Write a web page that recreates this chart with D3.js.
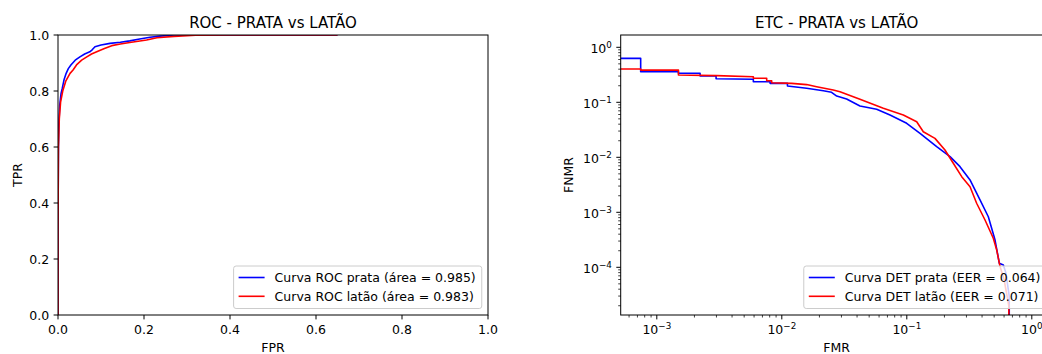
<!DOCTYPE html>
<html>
<head>
<meta charset="utf-8">
<script src="https://cdn.jsdelivr.net/npm/d3@7"></script>
<style>
  html, body { margin: 0; padding: 0; background: #fff; }
  svg { display: block; font-family: "DejaVu Sans", sans-serif; }
</style>
</head>
<body>
<svg id="chart" width="1042" height="354"></svg>
<script>
// ---------- DATA ----------
const rocTitle = "ROC - PRATA vs LATÃO";
const detTitle = "ETC - PRATA vs LATÃO";
const rocLegend = ["Curva ROC prata (área = 0.985)", "Curva ROC latão (área = 0.983)"];
const detLegend = ["Curva DET prata (EER = 0.064)", "Curva DET latão (EER = 0.071)"];
const seriesColors = ["#0000ff", "#ff0000"];

const rocTicks = [0.0, 0.2, 0.4, 0.6, 0.8, 1.0];

// ROC prata: [FPR, TPR]
const rocPrata = [
  [0, 0], [0, 0.3], [0.001, 0.6], [0.002, 0.68], [0.004, 0.75], [0.007, 0.79], [0.01, 0.81],
  [0.014, 0.84], [0.019, 0.863], [0.024, 0.88], [0.03, 0.893], [0.04, 0.91], [0.051, 0.922],
  [0.062, 0.932], [0.074, 0.94], [0.08, 0.948], [0.086, 0.958], [0.1, 0.964], [0.121, 0.970],
  [0.145, 0.974], [0.167, 0.979], [0.19, 0.986], [0.214, 0.992], [0.237, 0.996], [0.27, 1.0],
  [0.65, 1.0]
];
// ROC latão: [FPR, TPR]
const rocLatao = [
  [0, 0], [0, 0.3], [0.001, 0.6], [0.003, 0.7], [0.006, 0.76], [0.011, 0.80], [0.018, 0.835],
  [0.028, 0.863], [0.035, 0.875], [0.043, 0.893], [0.055, 0.91], [0.067, 0.922], [0.078, 0.932],
  [0.09, 0.94], [0.108, 0.952], [0.125, 0.962], [0.145, 0.968], [0.167, 0.973], [0.206, 0.982],
  [0.23, 0.99], [0.27, 0.995], [0.32, 0.999], [0.4, 1.0], [0.65, 1.0]
];

const detXTicks = [1e-3, 1e-2, 1e-1, 1e0];
const detYTicks = [1e-4, 1e-3, 1e-2, 1e-1, 1e0];

// DET prata: [FMR, FNMR]
const detPrata = [
  [1e-4, 0.63], [7.43e-4, 0.63], [7.43e-4, 0.36], [1.49e-3, 0.36], [1.49e-3, 0.337],
  [2.22e-3, 0.337], [2.22e-3, 0.30], [2.98e-3, 0.30], [2.98e-3, 0.268], [5.92e-3, 0.262],
  [5.92e-3, 0.237], [8.06e-3, 0.237], [8.06e-3, 0.221], [1.11e-2, 0.221], [1.11e-2, 0.198],
  [1.58e-2, 0.18], [2.15e-2, 0.162], [2.5e-2, 0.152], [2.75e-2, 0.13], [3.3e-2, 0.115],
  [4.22e-2, 0.0857], [5.74e-2, 0.0746], [7.34e-2, 0.0588], [9.98e-2, 0.0415], [0.1276, 0.0273],
  [0.1734, 0.0156], [0.2218, 0.01026], [0.2665, 0.00675], [0.3205, 0.00387], [0.3852, 0.00168],
  [0.449, 8.3e-4], [0.508, 3.13e-4], [0.55, 1.18e-4], [0.592, 1.1e-4], [0.62, 8e-5],
  [0.66, 3e-5], [0.66, 1e-7]
];
// DET latão: [FMR, FNMR]
const detLatao = [
  [1e-4, 0.403], [7.43e-4, 0.403], [7.43e-4, 0.385], [1.49e-3, 0.385], [1.49e-3, 0.313],
  [3e-3, 0.305], [5.92e-3, 0.292], [5.92e-3, 0.273], [7.57e-3, 0.273], [7.57e-3, 0.247],
  [8.3e-3, 0.247], [8.3e-3, 0.227], [1.2e-2, 0.221], [1.58e-2, 0.21], [1.9e-2, 0.192],
  [2.58e-2, 0.1675], [2.92e-2, 0.156], [4.22e-2, 0.1134], [6.49e-2, 0.0778], [9.38e-2, 0.0588],
  [0.12, 0.0444], [0.1355, 0.0292], [0.168, 0.0221], [0.202, 0.0136], [0.2355, 0.00778],
  [0.275, 0.00444], [0.3205, 0.00292], [0.362, 0.00146], [0.4225, 7.24e-4], [0.492, 3.37e-4],
  [0.524, 2.06e-4], [0.557, 1.03e-4], [0.6, 6e-5], [0.655, 2e-5], [0.655, 1e-7]
];

// ---------- LAYOUT ----------
const svg = d3.select("#chart");
const FS = 12.5, TFS = 15, LW = 1.6;
const L = { x0: 58, x1: 488, y0: 35, y1: 315 };
const R = { x0: 620.7, x1: 1052.7, y0: 35, y1: 315 };

const defs = svg.append("defs");
function clip(id, b) {
  defs.append("clipPath").attr("id", id).append("rect")
    .attr("x", b.x0).attr("y", b.y0).attr("width", b.x1 - b.x0).attr("height", b.y1 - b.y0);
}
clip("clipL", L); clip("clipR", R);

// ---------- ROC ----------
const xL = d3.scaleLinear().domain([0, 1]).range([L.x0, L.x1]);
const yL = d3.scaleLinear().domain([0, 1]).range([L.y1, L.y0]);

const gL = svg.append("g");
const lineL = d3.line().x(d => xL(d[0])).y(d => yL(d[1]));
[rocPrata, rocLatao].forEach((s, i) => {
  gL.append("path").datum(s).attr("d", lineL).attr("fill", "none")
    .attr("stroke", seriesColors[i]).attr("stroke-width", LW)
    .attr("stroke-linejoin", "round").attr("clip-path", "url(#clipL)");
});

function spines(b) {
  svg.append("rect").attr("x", b.x0).attr("y", b.y0).attr("width", b.x1 - b.x0)
    .attr("height", b.y1 - b.y0).attr("fill", "none").attr("stroke", "#000").attr("stroke-width", 1);
}
spines(L);

const axL = svg.append("g").attr("font-size", FS).attr("fill", "#000");
rocTicks.forEach(t => {
  axL.append("line").attr("x1", xL(t)).attr("x2", xL(t)).attr("y1", L.y1).attr("y2", L.y1 + 4.4)
    .attr("stroke", "#000").attr("stroke-width", 1);
  axL.append("text").attr("x", xL(t)).attr("y", L.y1 + 19.3).attr("text-anchor", "middle")
    .text(d3.format(".1f")(t));
  axL.append("line").attr("x1", L.x0 - 4.4).attr("x2", L.x0).attr("y1", yL(t)).attr("y2", yL(t))
    .attr("stroke", "#000").attr("stroke-width", 1);
  axL.append("text").attr("x", L.x0 - 8.8).attr("y", yL(t) + 4.6).attr("text-anchor", "end")
    .text(d3.format(".1f")(t));
});
svg.append("text").attr("x", (L.x0 + L.x1) / 2).attr("y", 351.5).attr("text-anchor", "middle")
  .attr("font-size", FS).text("FPR");
svg.append("text").attr("transform", `translate(21.5,${(L.y0 + L.y1) / 2}) rotate(-90)`)
  .attr("text-anchor", "middle").attr("font-size", FS).text("TPR");
svg.append("text").attr("x", (L.x0 + L.x1) / 2).attr("y", 27.5).attr("text-anchor", "middle")
  .attr("font-size", TFS).text(rocTitle);

// ---------- DET ----------
const xR = d3.scaleLog()
  .domain([Math.pow(10, -3 + (R.x0 - 656.8) / 125), Math.pow(10, (R.x1 - 1031.8) / 125)])
  .range([R.x0, R.x1]);
const yR = d3.scaleLog()
  .domain([Math.pow(10, -(R.y1 - 47.3) / 55), Math.pow(10, (47.3 - R.y0) / 55)])
  .range([R.y1, R.y0]);

const gR = svg.append("g");
const lineR = d3.line().x(d => xR(d[0])).y(d => yR(d[1]));
[detPrata, detLatao].forEach((s, i) => {
  gR.append("path").datum(s).attr("d", lineR).attr("fill", "none")
    .attr("stroke", seriesColors[i]).attr("stroke-width", LW)
    .attr("stroke-linejoin", "round").attr("clip-path", "url(#clipR)");
});
spines(R);

function minorTicks(dom) {
  const out = [];
  const lo = Math.floor(Math.log10(dom[0])), hi = Math.ceil(Math.log10(dom[1]));
  for (let k = lo; k <= hi; k++) for (let m = 2; m <= 9; m++) {
    const v = m * Math.pow(10, k);
    if (v >= dom[0] && v <= dom[1]) out.push(v);
  }
  return out;
}
function expLabel(sel, v) {
  const e = Math.round(Math.log10(v));
  sel.append("tspan").text("10");
  sel.append("tspan").attr("dy", -5).attr("font-size", FS * 0.7)
    .text(e < 0 ? "\u2212" + (-e) : String(e));
}
const axR = svg.append("g").attr("font-size", FS).attr("fill", "#000");
detXTicks.forEach(t => {
  if (t < xR.domain()[0] || t > xR.domain()[1]) return;
  axR.append("line").attr("x1", xR(t)).attr("x2", xR(t)).attr("y1", R.y1).attr("y2", R.y1 + 4.4)
    .attr("stroke", "#000").attr("stroke-width", 1);
  const tx = axR.append("text").attr("x", xR(t)).attr("y", R.y1 + 18.8).attr("text-anchor", "middle");
  expLabel(tx, t);
});
minorTicks(xR.domain()).forEach(t => {
  axR.append("line").attr("x1", xR(t)).attr("x2", xR(t)).attr("y1", R.y1).attr("y2", R.y1 + 2.5)
    .attr("stroke", "#000").attr("stroke-width", 0.75);
});
detYTicks.forEach(t => {
  axR.append("line").attr("x1", R.x0 - 4.4).attr("x2", R.x0).attr("y1", yR(t)).attr("y2", yR(t))
    .attr("stroke", "#000").attr("stroke-width", 1);
  const tx = axR.append("text").attr("x", R.x0 - 8.8).attr("y", yR(t) + 6).attr("text-anchor", "end");
  expLabel(tx, t);
});
minorTicks(yR.domain()).forEach(t => {
  axR.append("line").attr("x1", R.x0 - 2.5).attr("x2", R.x0).attr("y1", yR(t)).attr("y2", yR(t))
    .attr("stroke", "#000").attr("stroke-width", 0.75);
});
svg.append("text").attr("x", (R.x0 + R.x1) / 2).attr("y", 351.5).attr("text-anchor", "middle")
  .attr("font-size", FS).text("FMR");
svg.append("text").attr("transform", `translate(573.3,${(R.y0 + R.y1) / 2}) rotate(-90)`)
  .attr("text-anchor", "middle").attr("font-size", FS).text("FNMR");
svg.append("text").attr("x", (R.x0 + R.x1) / 2).attr("y", 27.5).attr("text-anchor", "middle")
  .attr("font-size", TFS).text(detTitle);

// ---------- LEGENDS ----------
function legend(b, labels) {
  const g = svg.append("g");
  const box = g.append("rect");
  const texts = labels.map(lab => g.append("text").attr("font-size", FS).text(lab));
  const tw = d3.max(texts, t => t.node().getComputedTextLength());
  const w = 5 + 26 + 10 + tw + 6;
  const right = b.x1 - 6.25, bottom = b.y1 - 6.5;
  const left = right - w, top = bottom - 42.5;
  box.attr("x", left).attr("y", top).attr("width", w).attr("height", 42.5)
    .attr("rx", 2.5).attr("ry", 2.5).attr("fill", "#fff").attr("fill-opacity", 0.8)
    .attr("stroke", "#cccccc").attr("stroke-width", 1);
  labels.forEach((lab, i) => {
    const cy = top + 11.5 + i * 18.8;
    g.append("line").attr("x1", left + 5).attr("x2", left + 31).attr("y1", cy).attr("y2", cy)
      .attr("stroke", seriesColors[i]).attr("stroke-width", LW);
    texts[i].attr("x", left + 41).attr("y", cy + 4.6);
  });
}
legend(L, rocLegend);
legend(R, detLegend);
</script>
</body>
</html>
